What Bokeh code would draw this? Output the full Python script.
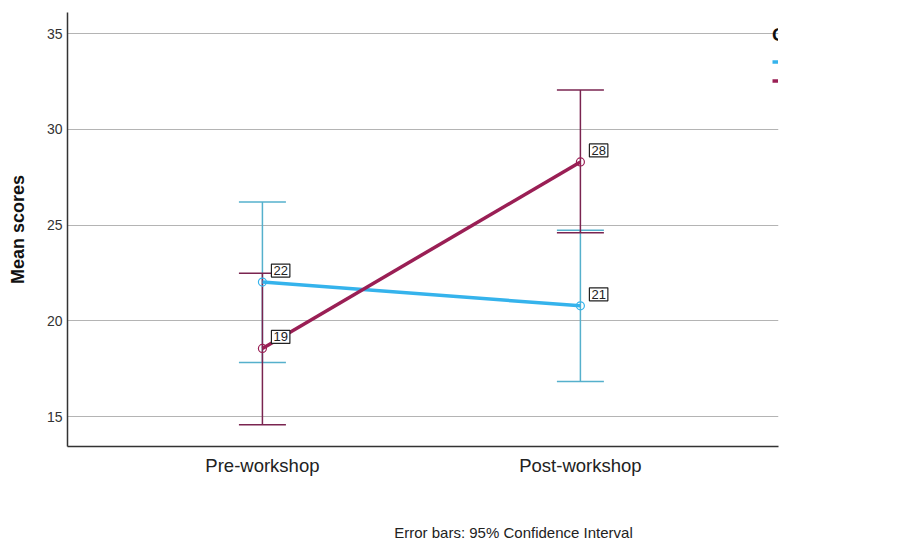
from bokeh.plotting import figure
from bokeh.models import (Range1d, ColumnDataSource, Whisker, TeeHead,
                          Legend, LegendItem, FixedTicker, LinearAxis)
from bokeh.core.properties import value
from bokeh.embed import file_html
from bokeh.resources import INLINE

categories = ["Pre-workshop", "Post-workshop"]
control_mean = [22.03, 20.79]
control_lower = [17.84, 16.84]
control_upper = [26.21, 24.73]
exp_mean = [18.57, 28.30]
exp_lower = [14.59, 24.60]
exp_upper = [22.49, 32.05]
control_labels = ["22", "21"]
exp_labels = ["19", "28"]
y_ticks = [15, 20, 25, 30, 35]
footer_text = "Error bars: 95% Confidence Interval"

xpos = list(range(len(categories)))

FONT = "Liberation Sans"
C_LINE = "#35b3ec"
C_BAR = "#55b0cc"
E_LINE = "#9a1f55"
E_BAR = "#7a2450"

p = figure(width=906, height=543, output_backend="svg", toolbar_location=None,
           x_range=Range1d(-0.613, 1.623), y_range=Range1d(13.45, 36.1))
p.min_border_left = 67
p.min_border_right = 128
p.min_border_top = 12
p.min_border_bottom = 93
p.outline_line_color = None
p.background_fill_color = "white"

p.xgrid.grid_line_color = None
p.ygrid.grid_line_color = "#b4b4b4"
p.ygrid.grid_line_width = 1.2
p.yaxis.ticker = FixedTicker(ticks=y_ticks)
p.xaxis.ticker = FixedTicker(ticks=xpos)
p.xaxis.major_label_overrides = {i: c for i, c in zip(xpos, categories)}

for ax in (p.xaxis[0], p.yaxis[0]):
    ax.axis_line_color = "#333333"
    ax.axis_line_width = 1.5
    ax.major_tick_line_color = None
    ax.minor_tick_line_color = None
    ax.major_tick_out = 0
    ax.major_tick_in = 0
    ax.major_label_text_font = FONT

p.yaxis.major_label_text_font_size = "14px"
p.yaxis.major_label_text_color = "#333333"
p.yaxis.major_label_standoff = 5
p.yaxis.axis_label = "Mean scores"
p.yaxis.axis_label_text_font = FONT
p.yaxis.axis_label_text_font_size = "18px"
p.yaxis.axis_label_text_font_style = "bold"
p.yaxis.axis_label_text_color = "#111111"
p.yaxis.axis_label_standoff = 16

p.xaxis.major_label_text_font_size = "18.5px"
p.xaxis.major_label_text_color = "#222222"
p.xaxis.major_label_standoff = 8

# footer note, drawn as the single label of an unlined axis under the x axis
p.extra_x_ranges = {"foot": Range1d(67, 778)}
foot_axis = LinearAxis(x_range_name="foot", ticker=FixedTicker(ticks=[513]),
                       major_label_overrides={513: footer_text})
foot_axis.axis_line_color = None
foot_axis.major_tick_line_color = None
foot_axis.minor_tick_line_color = None
foot_axis.major_tick_out = 0
foot_axis.major_tick_in = 0
foot_axis.major_label_standoff = 45
foot_axis.major_label_text_font = FONT
foot_axis.major_label_text_font_size = "15px"
foot_axis.major_label_text_color = "#222222"
p.add_layout(foot_axis, "below")

csrc = ColumnDataSource(dict(x=xpos, m=control_mean, lo=control_lower, up=control_upper, lab=control_labels))
esrc = ColumnDataSource(dict(x=xpos, m=exp_mean, lo=exp_lower, up=exp_upper, lab=exp_labels))

# error bars
for src, col in ((csrc, C_BAR), (esrc, E_BAR)):
    w = Whisker(source=src, base="x", lower="lo", upper="up", line_color=col, line_width=1.5,
                upper_head=TeeHead(size=47, line_color=col, line_width=1.5),
                lower_head=TeeHead(size=47, line_color=col, line_width=1.5))
    p.add_layout(w)

cl = p.line("x", "m", source=csrc, line_color=C_LINE, line_width=3.5)
el = p.line("x", "m", source=esrc, line_color=E_LINE, line_width=3.5)
p.scatter("x", "m", source=csrc, size=8, fill_color=None, line_color=C_LINE, line_width=1.2)
p.scatter("x", "m", source=esrc, size=8, fill_color=None, line_color=E_LINE, line_width=1.2)

for src in (csrc, esrc):
    p.text("x", "m", text="lab", source=src, x_offset=9, y_offset=-5,
           text_font=value(FONT), text_font_size=value("13px"), text_color="#222222",
           text_baseline="bottom", text_align="left",
           background_fill_color="white", border_line_color="#222222",
           border_line_width=1.2, padding=2)

legend = Legend(items=[LegendItem(label="Control", renderers=[cl]),
                       LegendItem(label="Experimental", renderers=[el])],
                location=(705, 356), title="Group")
legend.title_text_font = FONT
legend.title_text_font_size = "19px"
legend.title_text_font_style = "bold"
legend.title_text_color = "#111111"
legend.title_standoff = 6
legend.label_text_font = FONT
legend.label_text_font_size = "15px"
legend.label_text_color = "#222222"
legend.glyph_width = 30
legend.glyph_height = 19
legend.label_height = 19
legend.label_standoff = 4
legend.spacing = 0
legend.padding = 6
legend.margin = 0
legend.border_line_color = None
legend.background_fill_alpha = 0
p.add_layout(legend)

open("out.html", "w").write(file_html(p, INLINE))
